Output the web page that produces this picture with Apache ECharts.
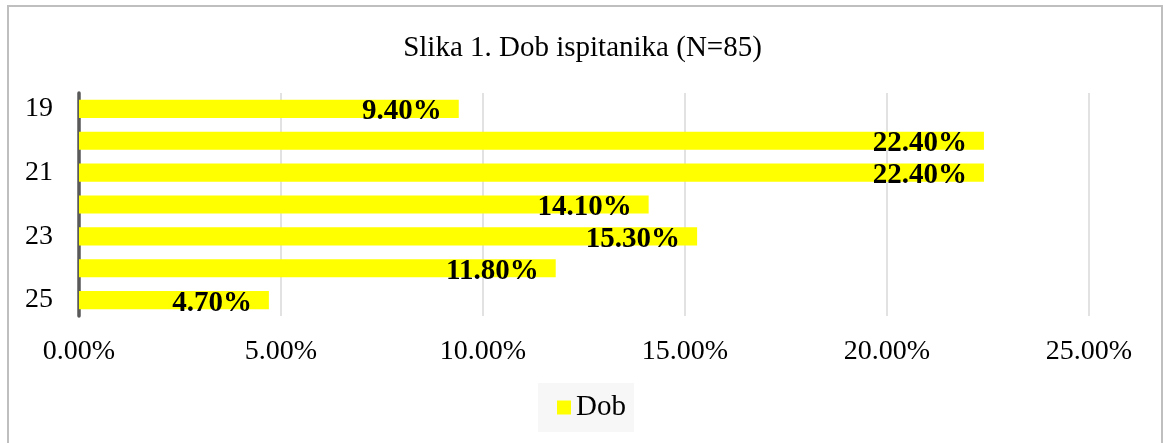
<!DOCTYPE html>
<html>
<head>
<meta charset="utf-8">
<script src="https://cdn.jsdelivr.net/npm/echarts@6/dist/echarts.min.js"></script>
<style>
html,body{margin:0;padding:0;background:#fff;}
#wrap{position:relative;width:1165px;height:443px;overflow:hidden;}
#frame{position:absolute;left:7px;top:5px;width:1156px;height:460px;border:2px solid #bfbfbf;box-sizing:border-box;}
#chart{position:absolute;left:0;top:0;width:1165px;height:443px;}
</style>
</head>
<body>
<div id="wrap"><div id="frame"></div><div id="chart"></div></div>
<script>
const titleText = "Slika 1. Dob ispitanika (N=85)";
const seriesName = "Dob";
const categories = ["19", "20", "21", "22", "23", "24", "25"];
const values = [9.4, 22.4, 22.4, 14.1, 15.3, 11.8, 4.7];
const xTicks = [0, 5, 10, 15, 20, 25];

const serif = "'Liberation Serif','Times New Roman',serif";
const chart = echarts.init(document.getElementById('chart'), null, {renderer: 'canvas'});
chart.setOption({
  animation: false,
  backgroundColor: 'transparent',
  title: {
    text: titleText, left: 'center', top: 29,
    textStyle: {fontFamily: serif, fontSize: 29, fontWeight: 'normal', color: '#000'}
  },
  legend: {
    data: [seriesName], left: 538, top: 383,
    padding: [9, 8, 9, 19],
    backgroundColor: '#f7f7f7',
    icon: 'rect', itemWidth: 14, itemHeight: 14, itemGap: 6,
    textStyle: {fontFamily: serif, fontSize: 29, lineHeight: 31, color: '#000', padding: [0,0,0,0]}
  },
  grid: {left: 79, right: 76, top: 93, bottom: 127, containLabel: false},
  xAxis: {
    type: 'value', min: xTicks[0], max: xTicks[xTicks.length-1], interval: 5,
    axisLabel: {fontFamily: serif, fontSize: 28, color: '#000', margin: 22,
      formatter: v => v.toFixed(2) + '%'},
    splitLine: {show: true, lineStyle: {color: '#d9d9d9', width: 1.5}},
    axisLine: {show: false}, axisTick: {show: false}
  },
  yAxis: {
    type: 'category', data: categories, inverse: true,
    axisLabel: {interval: 1, fontFamily: serif, fontSize: 28, color: '#000', margin: 26,
      padding: [4, 0, 0, 0]},
    axisLine: {show: true, lineStyle: {color: '#595959', width: 3.5}},
    axisTick: {show: false}
  },
  series: [{
    name: seriesName, type: 'bar', data: values, barWidth: '57%',
    itemStyle: {color: '#ffff00'},
    label: {
      show: true, position: 'insideRight', offset: [-12, 3],
      formatter: p => p.value.toFixed(2) + '%',
      fontFamily: serif, fontSize: 29, fontWeight: 'bold', color: '#000'
    }
  }]
});
</script>
</body>
</html>
